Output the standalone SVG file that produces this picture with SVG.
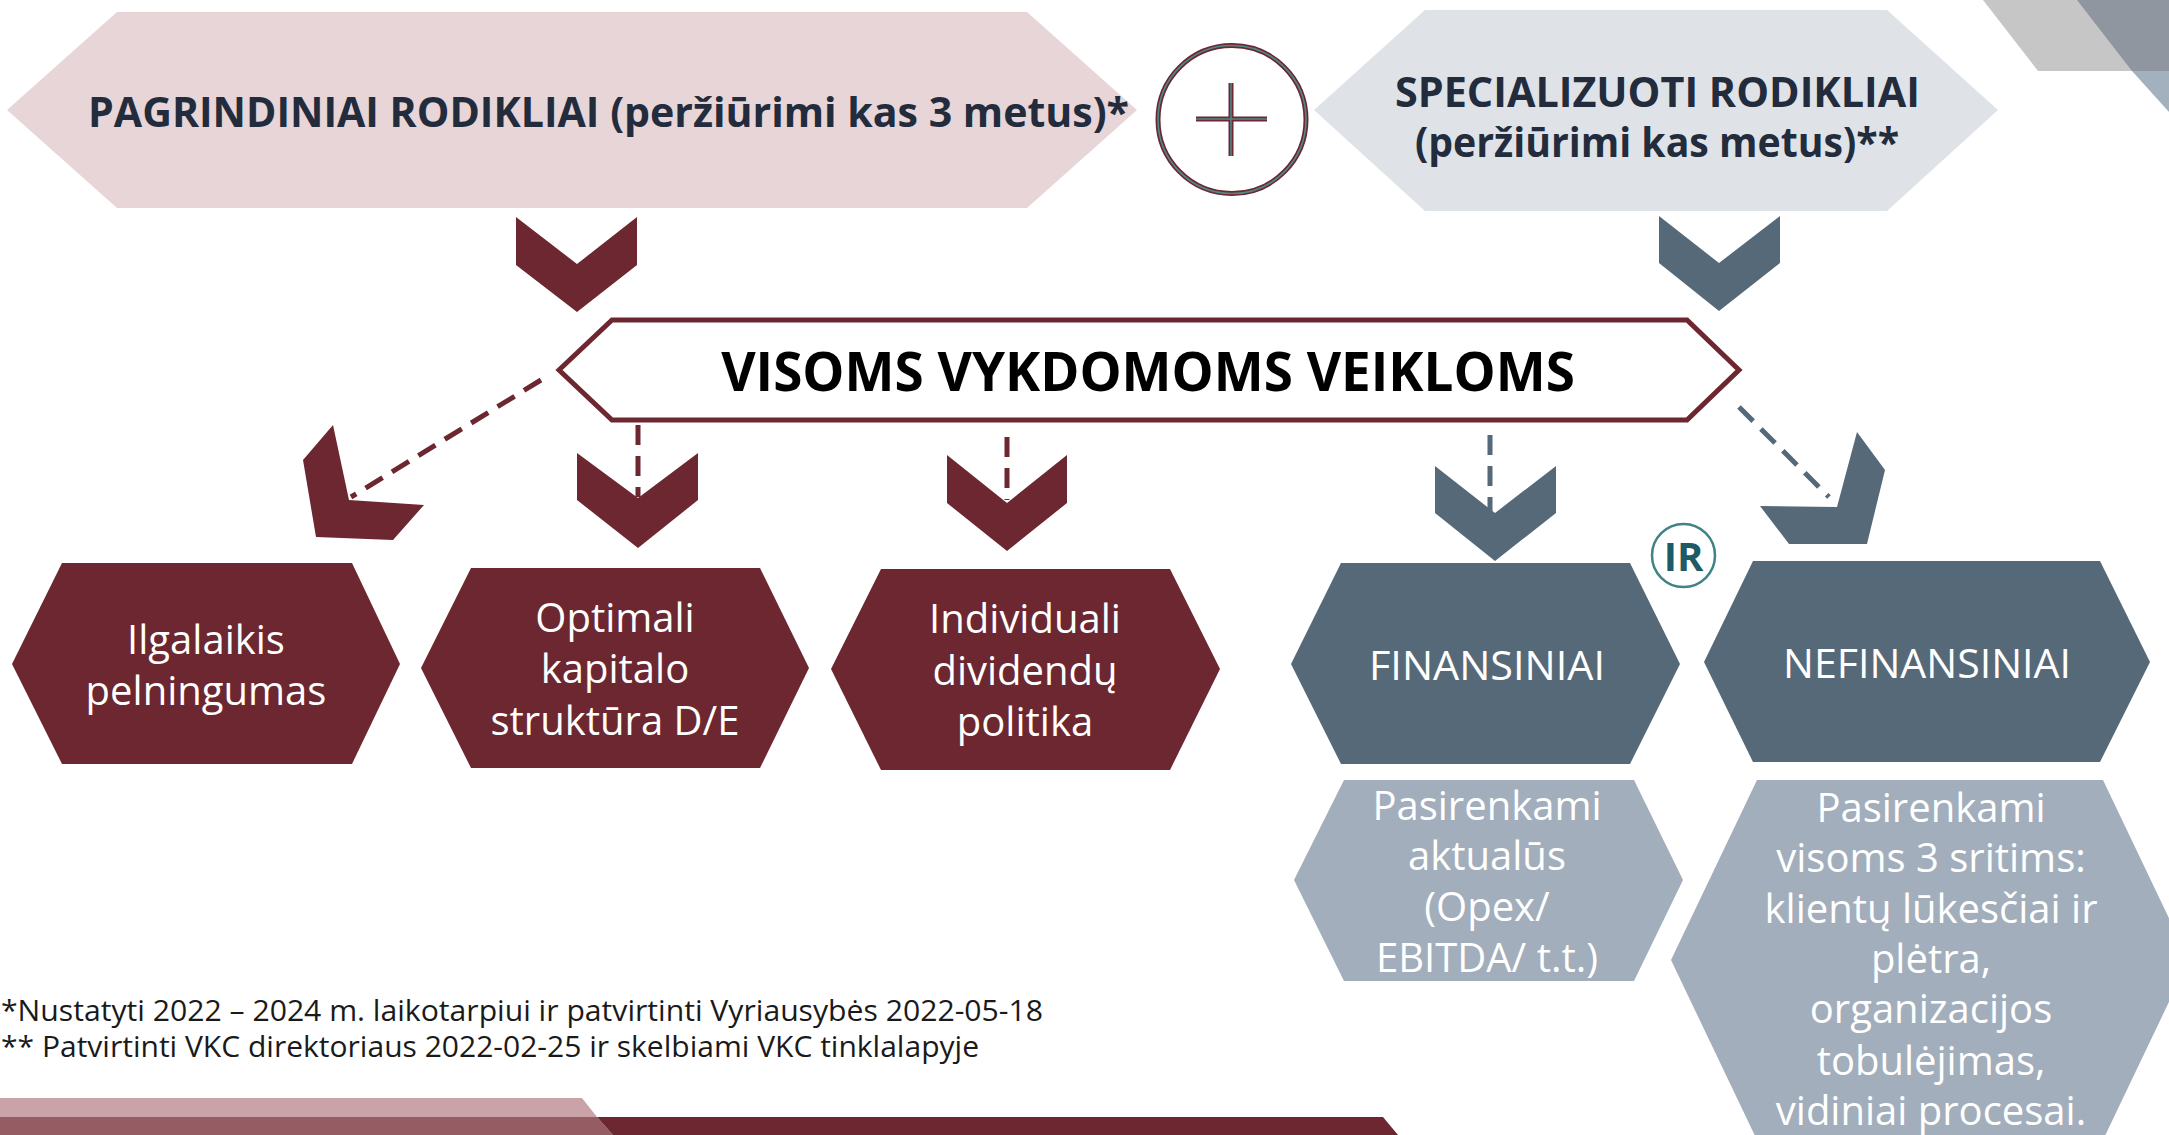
<svg xmlns="http://www.w3.org/2000/svg" width="2169" height="1135" viewBox="0 0 2169 1135">
<style>
.t{font-family:"Open Sans","Noto Sans","Liberation Sans",sans-serif;}
.hd{font-weight:700;fill:#222C3C;font-size:40.5px;}
.wt{fill:#FFFFFF;font-size:40px;text-anchor:middle;}
.mar{fill:#6C2730;}
.sl{fill:#566979;}
.lsl{fill:#A2AEBB;}
.dm{stroke:#6C2730;stroke-width:5;stroke-dasharray:20 11;fill:none;}
.ds{stroke:#566979;stroke-width:5;stroke-dasharray:20 11;fill:none;}
.fn{font-size:29px;fill:#1A1A1A;}
</style>
<rect width="2169" height="1135" fill="#FFFFFF"/>
<g id="decor">
<polygon points="1983,0 2169,0 2169,71 2038,71" fill="#C6C6C6"/>
<polygon points="2077,0 2169,0 2169,71 2132,71" fill="#8F969F"/>
<polygon points="2132,71 2169,71 2169,112" fill="#A3B0BD"/>
<polygon points="0,1098 582,1098 597,1117 0,1117" fill="#C9A3A8"/>
<polygon points="0,1117 597,1117 613,1135 0,1135" fill="#965C64"/>
<polygon points="597,1117 1383,1117 1398,1135 613,1135" fill="#6C2730"/>
</g>
<g id="node-pagrindiniai">
<polygon points="7,110 117,12 1027,12 1137,110 1027,208 117,208" fill="#E8D5D8"/>
<text class="t hd" x="88" y="127" textLength="1041" lengthAdjust="spacingAndGlyphs">PAGRINDINIAI RODIKLIAI (peržiūrimi kas 3 metus)*</text>
</g>
<g id="node-plus">
<circle cx="1232" cy="119.5" r="74" fill="#FFFFFF" stroke="#6C2730" stroke-width="5"/>
<circle cx="1232" cy="119.5" r="74" fill="none" stroke="#4E8A8C" stroke-width="1.6"/>
<path d="M1196,119 H1267 M1231,83 V156" stroke="#6C2730" stroke-width="5" fill="none"/>
<path d="M1196,119 H1267 M1231,83 V156" stroke="#4E8A8C" stroke-width="1.5" fill="none"/>
</g>
<g id="node-specializuoti">
<polygon points="1314,110 1425,10 1887,10 1998,110 1887,211 1425,211" fill="#DFE3E7"/>
<text class="t hd" x="1395" y="107" textLength="525" lengthAdjust="spacingAndGlyphs">SPECIALIZUOTI RODIKLIAI</text>
<text class="t hd" x="1415" y="157" textLength="484" lengthAdjust="spacingAndGlyphs">(peržiūrimi kas metus)**</text>
</g>
<g id="node-visoms">
<polygon points="559,370 612,320 1687,320 1739,370 1687,420 612,420" fill="#FFFFFF" stroke="#6C2730" stroke-width="5"/>
<text class="t" x="1148" y="391" text-anchor="middle" font-size="53" font-weight="700" fill="#000000">VISOMS VYKDOMOMS VEIKLOMS</text>
</g>
<g id="connectors">
<polygon class="mar" points="516,217 577,264 637,217 637,265 577,312 516,265"/>
<polygon class="sl" points="1659,216 1719,263 1780,216 1780,263 1719,311 1659,263"/>
<line class="dm" x1="541" y1="380" x2="351" y2="497"/>
<line class="dm" x1="638" y1="425" x2="638" y2="497"/>
<line class="dm" x1="1007" y1="437" x2="1007" y2="500"/>
<line class="ds" x1="1490" y1="435" x2="1490" y2="512"/>
<line class="ds" x1="1739" y1="407" x2="1829" y2="497"/>
<polygon class="mar" points="333,425 349,500 424,505 393,540 316,537 303,460"/>
<polygon class="mar" points="577,453 638,498 698,453 698,500 638,548 577,500"/>
<polygon class="mar" points="947,455 1007,503 1067,455 1067,503 1007,551 947,503"/>
<polygon class="sl" points="1435,466 1495,513 1556,466 1556,513 1495,561 1435,513"/>
<polygon class="sl" points="1857,432 1837,507 1760,506 1789,544 1867,544 1885,470"/>
</g>
<g id="node-ilgalaikis">
<polygon class="mar" points="12,664 62,563 352,563 400,664 352,764 62,764"/>
<text class="t wt" x="206" y="654">Ilgalaikis</text>
<text class="t wt" x="206" y="705">pelningumas</text>
</g>
<g id="node-optimali">
<polygon class="mar" points="421,668 471,568 760,568 809,668 760,768 471,768"/>
<text class="t wt" x="615" y="632">Optimali</text>
<text class="t wt" x="615" y="683">kapitalo</text>
<text class="t wt" x="615" y="735">struktūra D/E</text>
</g>
<g id="node-individuali">
<polygon class="mar" points="831,669 881,569 1170,569 1220,669 1170,770 881,770"/>
<text class="t wt" x="1025" y="633">Individuali</text>
<text class="t wt" x="1025" y="685">dividendų</text>
<text class="t wt" x="1025" y="736">politika</text>
</g>
<g id="node-ir">
<circle cx="1683.5" cy="555.5" r="31.5" fill="#FFFFFF" stroke="#3E8386" stroke-width="2.5"/>
<text class="t" x="1683.5" y="571" text-anchor="middle" font-size="40" font-weight="700" fill="#1E5B66">IR</text>
</g>
<g id="node-finansiniai">
<polygon class="sl" points="1291,664 1341,563 1630,563 1680,664 1630,764 1341,764"/>
<text class="t wt" x="1487" y="680" textLength="236" lengthAdjust="spacingAndGlyphs">FINANSINIAI</text>
</g>
<g id="node-nefinansiniai">
<polygon class="sl" points="1704,662 1753,561 2100,561 2150,662 2100,762 1753,762"/>
<text class="t wt" x="1927" y="678" textLength="288" lengthAdjust="spacingAndGlyphs">NEFINANSINIAI</text>
</g>
<g id="node-pasirenkami-1">
<polygon class="lsl" points="1294,880 1344,780 1634,780 1683,880 1634,981 1344,981"/>
<text class="t wt" x="1487" y="820">Pasirenkami</text>
<text class="t wt" x="1487" y="870">aktualūs</text>
<text class="t wt" x="1487" y="921">(Opex/</text>
<text class="t wt" x="1487" y="972">EBITDA/ t.t.)</text>
</g>
<g id="node-pasirenkami-2">
<polygon class="lsl" points="1671,960 1757,780 2103,780 2189,960 2103,1140 1757,1140"/>
<text class="t wt" x="1931" y="822">Pasirenkami</text>
<text class="t wt" x="1931" y="872">visoms 3 sritims:</text>
<text class="t wt" x="1931" y="923">klientų lūkesčiai ir</text>
<text class="t wt" x="1931" y="973">plėtra,</text>
<text class="t wt" x="1931" y="1023">organizacijos</text>
<text class="t wt" x="1931" y="1075">tobulėjimas,</text>
<text class="t wt" x="1931" y="1125">vidiniai procesai.</text>
</g>
<g id="footnotes">
<text class="t fn" x="1" y="1021" textLength="1042" lengthAdjust="spacingAndGlyphs">*Nustatyti 2022 – 2024 m. laikotarpiui ir patvirtinti Vyriausybės 2022-05-18</text>
<text class="t fn" x="1" y="1057" textLength="978" lengthAdjust="spacingAndGlyphs">** Patvirtinti VKC direktoriaus 2022-02-25 ir skelbiami VKC tinklalapyje</text>
</g>
</svg>
